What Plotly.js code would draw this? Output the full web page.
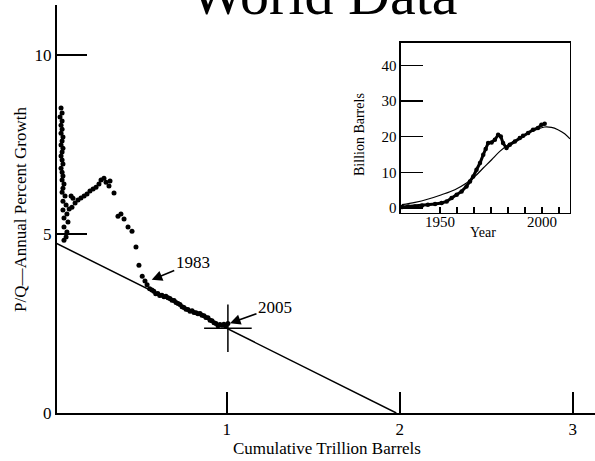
<!DOCTYPE html>
<html>
<head>
<meta charset="utf-8">
<script src="https://cdn.plot.ly/plotly-3.0.1.min.js"></script>
<style>html,body{margin:0;padding:0;background:#fff;}#chart{width:595px;height:461px;}</style>
</head>
<body>
<div id="chart"></div>
<script>
// ---- Main chart: P/Q (annual % growth) vs cumulative production (trillion barrels)
const cumQ = [
  0.043,0.049,0.037,0.049,0.043,0.049,0.043,0.054,0.049,0.043,0.054,0.049,0.043,0.049,0.054,0.043,
  0.049,0.054,0.049,0.060,0.054,0.049,0.066,0.054,0.072,0.054,0.077,0.060,0.083,0.060,0.077,0.072,0.060,
  0.101,0.112,0.090,0.106,0.124,0.141,0.158,0.176,0.193,0.210,0.228,0.245,0.262,0.274,0.291,
  0.303,0.326,0.320,0.349,0.372,0.389,0.407,0.430,0.453,0.476,0.493,0.512,0.528,0.540,0.555,
  0.568,0.579,0.590,0.602,0.613,0.626,0.638,0.649,0.661,0.672,0.684,0.696,0.707,0.719,0.730,0.742,
  0.753,0.765,0.776,0.788,0.800,0.811,0.823,0.834,0.846,0.857,0.869,0.880,0.892,0.904,0.915,0.927,
  0.938,0.950,0.961,0.973,0.984,0.996,1.007
];
const growthPct = [
  8.52,8.38,8.27,8.16,8.04,7.93,7.82,7.71,7.60,7.49,7.40,7.29,7.18,7.07,6.96,6.84,
  6.73,6.62,6.51,6.40,6.28,6.17,6.06,5.92,5.81,5.67,5.56,5.45,5.34,5.20,5.06,4.92,4.83,
  6.06,6.00,5.70,5.75,5.87,5.95,6.01,6.06,6.12,6.20,6.26,6.31,6.40,6.51,6.56,
  6.45,6.48,6.34,6.15,5.50,5.56,5.42,5.20,5.08,4.64,4.13,3.82,3.69,3.58,3.47,
  3.44,3.40,3.33,3.34,3.28,3.29,3.25,3.26,3.22,3.20,3.15,3.14,3.09,3.06,3.03,2.97,
  2.95,2.90,2.89,2.84,2.86,2.81,2.80,2.77,2.78,2.73,2.72,2.67,2.66,2.59,2.58,2.52,
  2.50,2.44,2.47,2.45,2.48,2.44,2.50
];
const fitQ = [0, 1.98];
const fitGrowth = [4.78, 0];
const markQ = [1.007];
const markGrowth = [2.37];

// ---- Inset: annual production (billion barrels) vs year
const years = [1931.5,1934.4,1937.8,1941.2,1944.1,1947.6,1950.8,1953.3,1955.7,1958.2,1960.6,1963.0,
  1964.7,1966.3,1967.9,1969.6,1971.2,1972.4,1973.6,1975.3,1976.9,1978.5,1979.8,1980.9,1982.6,
  1984.2,1986.7,1989.1,1990.7,1993.2,1995.6,1998.0,1999.7,2001.3];
const prodGb = [0.3,0.45,0.45,0.73,0.93,1.12,1.40,1.85,2.80,3.73,4.66,6.06,
  7.46,8.86,10.74,12.62,14.95,16.55,18.23,18.40,19.16,20.56,20.08,18.23,16.83,
  17.76,18.68,19.64,20.28,21.04,21.96,22.44,23.37,23.65];
const curveYears = [1931.3,1937.8,1944.3,1950.8,1957.3,1963.0,1967.1,1971.2,1975.3,1979.3,
  1983.4,1988.3,1993.2,1998.0,2001.3,2004.6,2007.8,2011.1,2013.7];
const curveGb = [0.93,1.57,2.52,3.73,5.13,7.01,8.86,11.22,13.55,15.88,
  17.76,19.35,21.04,22.16,22.72,22.61,21.96,20.84,19.4];
const insetTickYears = [1950,1958.33,1966.67,1975,1983.33,1991.67,2000,2008.33];
const insetTickText = ['1950','','','','','','2000',''];
const mainYTicks = [0,5,10];
const mainXTicks = [1,2,3];
const insetYTicks = [0,10,20,30,40];

const serif = 'Liberation Serif, Times New Roman, serif';

const traces = [
  {x: fitQ, y: fitGrowth, mode: 'lines', line: {color: '#000', width: 1.5}, xaxis: 'x', yaxis: 'y', hoverinfo: 'skip'},
  {x: cumQ, y: growthPct, mode: 'markers', marker: {color: '#000', size: 5}, xaxis: 'x', yaxis: 'y'},
  {x: markQ, y: markGrowth, mode: 'markers', marker: {symbol: 'cross-thin', size: 34, color: '#000', line: {color: '#000', width: 1.5}}, xaxis: 'x', yaxis: 'y'},
  {x: curveYears, y: curveGb, mode: 'lines', line: {color: '#000', width: 1.2, shape: 'spline'}, xaxis: 'x2', yaxis: 'y2'},
  {x: years, y: prodGb, mode: 'lines+markers', line: {color: '#000', width: 3}, marker: {color: '#000', size: 4.5}, xaxis: 'x2', yaxis: 'y2'}
];

const layout = {
  width: 595, height: 461,
  margin: {l: 57, r: 0, t: 5, b: 48},
  paper_bgcolor: '#fff', plot_bgcolor: 'rgba(0,0,0,0)',
  showlegend: false,
  font: {family: serif, color: '#000', size: 16},
  xaxis: {
    domain: [0, 1], range: [0.0196, 3.128], anchor: 'y',
    showline: true, linecolor: '#000', linewidth: 2, showgrid: false, zeroline: false,
    tickmode: 'array', tickvals: mainXTicks, ticktext: mainXTicks.map(String),
    ticks: 'inside', ticklen: 21, tickwidth: 2, tickcolor: '#000',
    tickfont: {family: serif, size: 17, color: '#000'}
  },
  yaxis: {
    domain: [0, 1], range: [0, 11.4], anchor: 'x',
    showline: true, linecolor: '#000', linewidth: 2, showgrid: false, zeroline: false,
    tickmode: 'array', tickvals: mainYTicks, ticktext: mainYTicks.map(String),
    ticks: 'inside', ticklen: 30, tickwidth: 2, tickcolor: '#000',
    tickfont: {family: serif, size: 17, color: '#000'}
  },
  xaxis2: {
    domain: [0.6394, 0.9535], range: [1930.9, 2013.7], anchor: 'y2',
    showline: true, mirror: true, linecolor: '#000', linewidth: 1.5, showgrid: false, zeroline: false,
    tickmode: 'array', tickvals: insetTickYears, ticktext: insetTickText,
    ticks: 'inside', ticklen: 6, tickwidth: 1.5, tickcolor: '#000',
    ticklabelstandoff: -5,
    tickfont: {family: serif, size: 15, color: '#000'}
  },
  yaxis2: {
    domain: [0.4902, 0.9069], range: [-1.4, 46.3], anchor: 'x2',
    showline: true, mirror: true, linecolor: '#000', linewidth: 1.5, showgrid: false, zeroline: false,
    tickmode: 'array', tickvals: insetYTicks, ticktext: insetYTicks.map(String),
    ticks: 'inside', ticklen: 22, tickwidth: 1.5, tickcolor: '#000',
    tickfont: {family: serif, size: 15, color: '#000'}
  },
  annotations: [
    {text: 'World Data', xref: 'paper', yref: 'paper', x: 0.497, y: 1.026, xanchor: 'center', yanchor: 'middle',
     showarrow: false, font: {family: serif, size: 58, color: '#000'}},
    {text: 'P/Q\u2014Annual Percent Growth', xref: 'paper', yref: 'paper', x: -0.0688, y: 0.5, textangle: -90,
     xanchor: 'center', yanchor: 'middle', showarrow: false, font: {family: serif, size: 17, color: '#000'}},
    {text: 'Cumulative Trillion Barrels', xref: 'paper', yref: 'paper', x: 0.5019, y: -0.0882,
     xanchor: 'center', yanchor: 'middle', showarrow: false, font: {family: serif, size: 17, color: '#000'}},
    {text: 'Billion Barrels', xref: 'paper', yref: 'paper', x: 0.5632, y: 0.6814, textangle: -90,
     xanchor: 'center', yanchor: 'middle', showarrow: false, font: {family: serif, size: 14, color: '#000'}},
    {text: 'Year', xref: 'paper', yref: 'paper', x: 0.7918, y: 0.4436,
     xanchor: 'center', yanchor: 'middle', showarrow: false, font: {family: serif, size: 14, color: '#000'}},
    {text: '1983', xref: 'x', yref: 'y', x: 0.567, y: 3.72, ax: 41, ay: -17,
     showarrow: true, arrowhead: 2, arrowsize: 1.4, arrowwidth: 1.5, arrowcolor: '#000', standoff: 0,
     font: {family: serif, size: 17, color: '#000'}},
    {text: '2005', xref: 'x', yref: 'y', x: 1.019, y: 2.51, ax: 45, ay: -16,
     showarrow: true, arrowhead: 2, arrowsize: 1.4, arrowwidth: 1.5, arrowcolor: '#000', standoff: 0,
     font: {family: serif, size: 17, color: '#000'}}
  ]
};

Plotly.newPlot('chart', traces, layout, {staticPlot: true, displayModeBar: false});
</script>
</body>
</html>
